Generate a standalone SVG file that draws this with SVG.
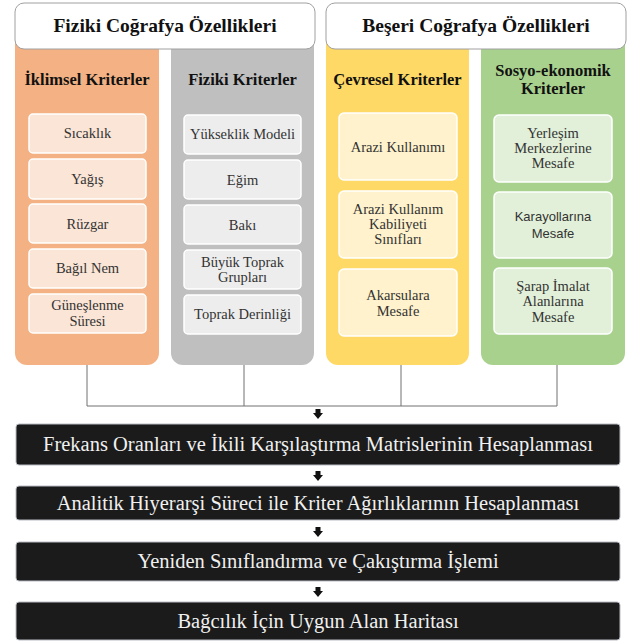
<svg xmlns="http://www.w3.org/2000/svg" width="628" height="644" viewBox="0 0 628 644">
<style>
.hdr{fill:#fff;stroke:#a0a0a0;stroke-width:1}
.ht{font-family:"Liberation Serif","DejaVu Serif",serif;font-weight:bold;font-size:19.5px;fill:#111;text-anchor:middle}
.ct{font-family:"Liberation Serif","DejaVu Serif",serif;font-weight:bold;font-size:16.5px;fill:#111;text-anchor:middle}
.it{font-family:"Liberation Serif","DejaVu Serif",serif;font-size:14.5px;fill:#333;text-anchor:middle}
.its{font-family:"Liberation Sans",sans-serif;font-size:13px;fill:#333;text-anchor:middle}
.item{stroke:#fff;stroke-width:1.5}
.o{fill:#fbe5d6}.g{fill:#ededed}.y{fill:#fff2cc}.gr{fill:#e2f0d9}
.blk{fill:#1b1b1b;stroke:#b8bcc4;stroke-width:1}
.bt{font-family:"Liberation Serif","DejaVu Serif",serif;font-size:20.5px;fill:#f0f0f0;text-anchor:middle}
.ln{fill:none;stroke:#707070;stroke-width:1}
</style>
<defs>
<path id="arr" d="M-2.5,-5 H2.5 V-1 H5 L0,5 L-5,-1 H-2.5 Z" fill="#111"/>
</defs>
<rect width="628" height="644" fill="#fff"/>

<g id="col-iklimsel">
<rect x="15" y="30" width="144" height="335" rx="12" fill="#f4b183"/>
<text class="ct" x="87" y="85">İklimsel Kriterler</text>
<rect class="item o" x="29" y="114" width="117" height="39" rx="4"/>
<text class="it" x="87.5" y="138">Sıcaklık</text>
<rect class="item o" x="29" y="159" width="117" height="40" rx="4"/>
<text class="it" x="87.5" y="184">Yağış</text>
<rect class="item o" x="29" y="204" width="117" height="39" rx="4"/>
<text class="it" x="87.5" y="229">Rüzgar</text>
<rect class="item o" x="29" y="249" width="117" height="39" rx="4"/>
<text class="it" x="87.5" y="273">Bağıl Nem</text>
<rect class="item o" x="29" y="294" width="117" height="39" rx="4"/>
<text class="it" x="87.5" y="310">Güneşlenme</text>
<text class="it" x="87.5" y="326">Süresi</text>
</g>

<g id="col-fiziki">
<rect x="171" y="30" width="143" height="335" rx="12" fill="#bfbfbf"/>
<text class="ct" x="242.5" y="85">Fiziki Kriterler</text>
<rect class="item g" x="184" y="115" width="117" height="39" rx="4"/>
<text class="it" x="242.5" y="139">Yükseklik Modeli</text>
<rect class="item g" x="184" y="160" width="117" height="39" rx="4"/>
<text class="it" x="242.5" y="185">Eğim</text>
<rect class="item g" x="184" y="205" width="117" height="39" rx="4"/>
<text class="it" x="242.5" y="230">Bakı</text>
<rect class="item g" x="184" y="250" width="117" height="39" rx="4"/>
<text class="it" x="242.5" y="267">Büyük Toprak</text>
<text class="it" x="242.5" y="282">Grupları</text>
<rect class="item g" x="184" y="295" width="117" height="39" rx="4"/>
<text class="it" x="242.5" y="319">Toprak Derinliği</text>
</g>

<g id="col-cevresel">
<rect x="326" y="30" width="143" height="335" rx="12" fill="#ffd966"/>
<text class="ct" x="397.5" y="85">Çevresel Kriterler</text>
<rect class="item y" x="339" y="113" width="118" height="67" rx="5"/>
<text class="it" x="398" y="152">Arazi Kullanımı</text>
<rect class="item y" x="339" y="191" width="118" height="67" rx="5"/>
<text class="it" x="398" y="214">Arazi Kullanım</text>
<text class="it" x="398" y="229">Kabiliyeti</text>
<text class="it" x="398" y="244">Sınıfları</text>
<rect class="item y" x="339" y="269" width="118" height="67" rx="5"/>
<text class="it" x="398" y="300">Akarsulara</text>
<text class="it" x="398" y="316">Mesafe</text>
</g>

<g id="col-sosyo">
<rect x="481" y="30" width="144" height="335" rx="12" fill="#a9d18e"/>
<text class="ct" x="553" y="76">Sosyo-ekonomik</text>
<text class="ct" x="553" y="94">Kriterler</text>
<rect class="item gr" x="494" y="115" width="118" height="67" rx="5"/>
<text class="it" x="553" y="138">Yerleşim</text>
<text class="it" x="553" y="153">Merkezlerine</text>
<text class="it" x="553" y="168">Mesafe</text>
<rect class="item gr" x="494" y="192" width="118" height="66" rx="5"/>
<text class="its" x="553" y="221">Karayollarına</text>
<text class="its" x="553" y="238">Mesafe</text>
<rect class="item gr" x="494" y="268" width="118" height="66" rx="5"/>
<text class="it" x="553" y="291">Şarap İmalat</text>
<text class="it" x="553" y="306">Alanlarına</text>
<text class="it" x="553" y="322">Mesafe</text>
</g>

<g id="hdr-fiziki">
<rect class="hdr" x="15" y="3" width="300" height="46" rx="9"/>
<text class="ht" x="165" y="32">Fiziki Coğrafya Özellikleri</text>
</g>
<g id="hdr-beseri">
<rect class="hdr" x="326" y="3" width="300" height="46" rx="9"/>
<text class="ht" x="476" y="32">Beşeri Coğrafya Özellikleri</text>
</g>

<g id="connectors">
<path class="ln" d="M87,365 V406 H557 V365 M244,365 V406 M401,365 V406"/>
<use href="#arr" x="318" y="414"/>
<use href="#arr" x="318" y="476"/>
<use href="#arr" x="318" y="532"/>
<use href="#arr" x="318" y="592"/>
</g>

<g id="step1">
<rect class="blk" x="16" y="424" width="604" height="41" rx="3"/>
<text class="bt" x="318" y="451">Frekans Oranları ve İkili Karşılaştırma Matrislerinin Hesaplanması</text>
</g>
<g id="step2">
<rect class="blk" x="16" y="486" width="604" height="34" rx="3"/>
<text class="bt" x="318" y="510">Analitik Hiyerarşi Süreci ile Kriter Ağırlıklarının Hesaplanması</text>
</g>
<g id="step3">
<rect class="blk" x="16" y="542" width="604" height="39" rx="3"/>
<text class="bt" x="318" y="568">Yeniden Sınıflandırma ve Çakıştırma İşlemi</text>
</g>
<g id="step4">
<rect class="blk" x="16" y="602" width="604" height="38" rx="3"/>
<text class="bt" x="318" y="628">Bağcılık İçin Uygun Alan Haritası</text>
</g>
</svg>
